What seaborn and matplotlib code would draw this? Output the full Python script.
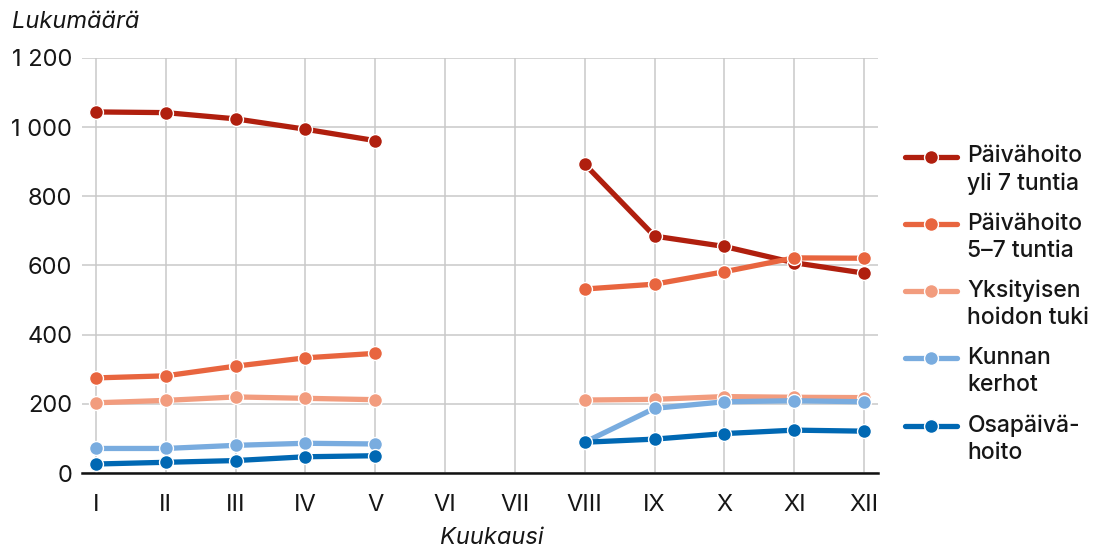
import matplotlib
matplotlib.use("Agg")
import matplotlib.pyplot as plt
import matplotlib.ticker as tic
from matplotlib.lines import Line2D
import seaborn as sns
import numpy as np
import pandas as pd

# Kuukaudet (VI ja VII puuttuvat datasta)
months = ["I", "II", "III", "IV", "V", "VI", "VII", "VIII", "IX", "X", "XI", "XII"]

series_names = ["Päivähoito\nyli 7 tuntia", "Päivähoito\n5–7 tuntia",
                "Yksityisen\nhoidon tuki", "Kunnan\nkerhot", "Osapäivä-\nhoito"]

yli7 = [1044, 1042, 1024, 994, 961, None, None, 893, 685, 655, 608, 578]
h5_7 = [275, 281, 309, 333, 346, None, None, 532, 546, 582, 622, 621]
yksityinen = [203, 210, 220, 216, 212, None, None, 211, 213, 221, 219, 218]
kerhot = [71, 71, 80, 86, 84, None, None, 89, 187, 206, 209, 206]
osapaiva = [26, 31, 36, 47, 50, None, None, 89, 98, 114, 124, 121]

colors = ["#b01f0e", "#e8653f", "#f29c7e", "#79acdf", "#0068b3"]

all_values = [yli7, h5_7, yksityinen, kerhot, osapaiva]

# Long format; segment id keeps the summer gap open
rows = []
for name, vals in zip(series_names, all_values):
    for i, v in enumerate(vals):
        if v is None:
            continue
        rows.append({"series": name, "month": i, "value": v, "segment": 0 if i < 5 else 1})
df = pd.DataFrame(rows)

sns.set_style("white")
plt.rcParams["font.family"] = ["Inter", "DejaVu Sans"]
text_color = "#161616"

fig = plt.figure(figsize=(10.98, 5.49), dpi=100)
ax = fig.add_axes([0.0747, 0.1384, 0.7249, 0.756])

pal = dict(zip(series_names, colors))
sns.lineplot(data=df, x="month", y="value", hue="series", units="segment",
             estimator=None, palette=pal, hue_order=series_names,
             linewidth=3.8, marker="o", markersize=10, markeredgecolor="white",
             markeredgewidth=1.0, legend=False, ax=ax, sort=True)

for line in ax.get_lines():
    line.set_solid_capstyle("round")

ax.set_xlim(-0.2, 11.2)
ax.set_ylim(0, 1200)
ax.set_xticks(range(len(months)))
ax.set_xticklabels(months)
ax.yaxis.set_major_locator(tic.MultipleLocator(200))
ax.yaxis.set_major_formatter(tic.FuncFormatter(lambda v, p: f"{int(v):,}".replace(",", " ")))

ax.grid(True, color="#c9c9c9", linewidth=1.1)
ax.set_axisbelow(True)
for side in ["top", "right", "left"]:
    ax.spines[side].set_visible(False)
ax.spines["bottom"].set_color("#111111")
ax.spines["bottom"].set_linewidth(1.8)
ax.spines["bottom"].set_zorder(1.5)

ax.tick_params(axis="x", length=9, width=1.1, color="#c9c9c9", pad=6,
               labelsize=17, labelcolor=text_color)
ax.tick_params(axis="y", length=0, pad=7, labelsize=17, labelcolor=text_color)
for lab in ax.get_yticklabels():
    lab.set_verticalalignment("center_baseline")

ax.set_xlabel("")
ax.set_ylabel("")
fig.text(0.011, 0.96, "Lukumäärä", style="italic", fontsize=17, color=text_color,
         ha="left", va="center")
fig.text(0.448, 0.02, "Kuukausi", style="italic", fontsize=17, color=text_color,
         ha="center", va="center")

handles = [Line2D([0], [0], color=c, linewidth=3.8, marker="o", markersize=10,
                  markeredgecolor="white", markeredgewidth=1.0, solid_capstyle="round")
           for c in colors]
leg = ax.legend(handles, series_names, loc="upper left", bbox_to_anchor=(1.023, 0.812),
                frameon=False, fontsize=16.5, handlelength=2.25, handletextpad=0.45,
                labelspacing=0.78, labelcolor=text_color, borderaxespad=0)
for t in leg.get_texts():
    t.set_fontweight("medium")
    t.set_linespacing(1.3)
# lift the legend handles level with the first text line
for hl in leg.get_lines():
    hl.set_ydata(np.asarray(hl.get_ydata(), dtype=float) + 10)

fig.savefig("out.png", dpi=100)
